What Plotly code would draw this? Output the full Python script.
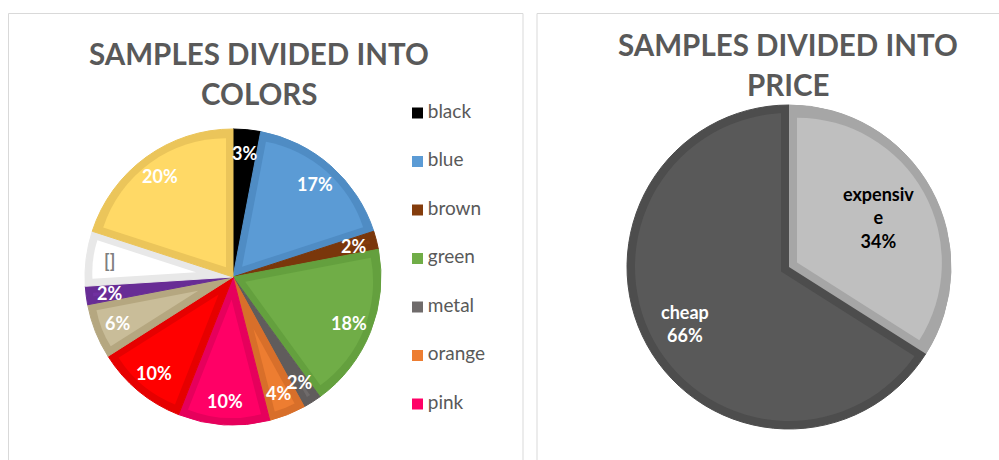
import textwrap
import numpy as np
import plotly.graph_objects as go

W, H = 999, 460
FONT = "Lato"
TEXT_GREY = "#595959"

# ---- colour breakdown (percent of samples, clockwise from 12 o'clock) ----
color_names = ["black", "blue", "brown", "green", "metal", "orange",
               "pink", "red", "beige", "purple", "white", "yellow"]
color_values = [3, 17, 2, 18, 2, 4, 10, 10, 6, 2, 6, 20]
color_fill = ["#000000", "#5b9bd5", "#843c0c", "#70ad47", "#6f6b6b", "#ed7d31",
              "#ff0066", "#ff0000", "#c9bd99", "#7030a0", "#ffffff", "#ffd966"]
color_edge = ["#000000", "#4f8cc4", "#7a370b", "#64a03e", "#605c5c", "#d86f2a",
              "#e6005c", "#e60000", "#b5a780", "#682c95", "#e8e8e8", "#ebc55a"]
color_text = ["white"] * 10 + ["#7f7f7f", "white"]
missing_label = {"white": "[]"}      # slice whose data label has no value
legend_count = 7                     # legend entries that fit the column

# ---- price breakdown (clockwise from 12 o'clock) ----
price_names = ["expensive", "cheap"]
price_values = [34, 66]
price_fill = ["#bfbfbf", "#595959"]
price_edge = ["#a6a6a6", "#4d4d4d"]
price_text = ["#000000", "white"]

titles = [["SAMPLES DIVIDED INTO", "COLORS"], ["SAMPLES DIVIDED INTO", "PRICE"]]


def domain_px(cx, cy, half):
    return dict(x=[(cx - half) / W, (cx + half) / W],
                y=[1 - (cy + half) / H, 1 - (cy - half) / H])


def angles(values):
    total = float(sum(values))
    spans = np.array(values) / total * 360.0
    starts = np.concatenate([[0.0], np.cumsum(spans)[:-1]])
    return total, starts, spans


def wedge(cx, cy, half, start, value, total, color):
    """One slice drawn as its own pie, the remainder left transparent."""
    return go.Pie(values=[value, total - value], rotation=start,
                  direction="clockwise", sort=False,
                  marker=dict(colors=[color, "rgba(0,0,0,0)"], line=dict(width=0)),
                  textinfo="none", hoverinfo="skip", showlegend=False,
                  domain=domain_px(cx, cy, half))


def offset(cx, cy, dist, ang_deg):
    a = np.radians(ang_deg)
    return cx + dist * np.sin(a), cy - dist * np.cos(a)


traces = []
annotations = []

# ---------------- colour pie ----------------
CL, RL, DL = (233, 277), 148, 7
total, starts, spans = angles(color_values)
traces.append(go.Pie(values=color_values, labels=color_names, direction="clockwise",
                     sort=False, rotation=0,
                     marker=dict(colors=color_edge, line=dict(color=color_edge, width=1)),
                     textinfo="none", hoverinfo="skip", showlegend=False,
                     domain=domain_px(*CL, RL)))
for v, a0, da, c in zip(color_values, starts, spans, color_fill):
    shift = DL / np.sin(np.radians(da / 2))
    rad = RL - DL - shift
    if rad <= 1:
        continue
    cx, cy = offset(*CL, shift, a0 + da / 2)
    traces.append(wedge(cx, cy, rad, a0, v, total, c))

for name, v, a0, da, tc in zip(color_names, color_values, starts, spans, color_text):
    label = missing_label.get(name, f"{round(v / total * 100)}%")
    x, y = offset(*CL, 0.84 * RL, a0 + da / 2)
    annotations.append(dict(x=x / W, y=1 - y / H, xref="paper", yref="paper",
                            text=f"<b>{label}</b>", showarrow=False,
                            xanchor="center", yanchor="middle",
                            font=dict(family=FONT, size=18, color=tc)))

# ---------------- price pie ----------------
CR, RR, DR = (789, 267), 162, 8
ptotal, pstarts, pspans = angles(price_values)
exp_i, chp_i = 0, 1
# dark rim for both slices, then the light body of the large slice
traces.append(go.Pie(values=price_values, labels=price_names, direction="clockwise",
                     sort=False, rotation=0,
                     marker=dict(colors=price_edge, line=dict(color=price_edge, width=1)),
                     textinfo="none", hoverinfo="skip", showlegend=False,
                     domain=domain_px(*CR, RR)))
traces.append(go.Pie(values=price_values, direction="clockwise", sort=False,
                     marker=dict(colors=[price_fill[chp_i]] * 2, line=dict(width=0)),
                     textinfo="none", hoverinfo="skip", showlegend=False,
                     domain=domain_px(*CR, RR - DR)))
# rim of the large slice along its straight edges
a0, da = pstarts[exp_i], pspans[exp_i]
shift = DR / np.sin(np.radians(da / 2))
cx, cy = offset(*CR, -shift, a0 + da / 2)
traces.append(wedge(cx, cy, RR - DR / 2 + 0.7 * shift, a0, price_values[exp_i],
                    ptotal, price_edge[chp_i]))
# small slice: rim, then its inset body
traces.append(wedge(*CR, RR, a0, price_values[exp_i], ptotal, price_edge[exp_i]))
cx, cy = offset(*CR, shift, a0 + da / 2)
traces.append(wedge(cx, cy, RR - DR - shift, a0, price_values[exp_i], ptotal,
                    price_fill[exp_i]))

label_r = [0.63, 0.73]
for name, v, a0, da, tc, rf in zip(price_names, price_values, pstarts, pspans,
                                    price_text, label_r):
    lines = textwrap.wrap(name, 8, break_long_words=True)
    label = "<br>".join(lines + [f"{round(v / ptotal * 100)}%"])
    x, y = offset(*CR, rf * RR, a0 + da / 2)
    annotations.append(dict(x=x / W, y=1 - y / H, xref="paper", yref="paper",
                            text=f"<b>{label}</b>", showarrow=False,
                            xanchor="center", yanchor="middle",
                            font=dict(family=FONT, size=18, color=tc)))

# ---------------- legend column ----------------
traces.append(go.Scatter(x=[0] * legend_count, y=list(range(legend_count)),
                         mode="markers+text",
                         marker=dict(symbol="square", size=11,
                                     color=color_fill[:legend_count]),
                         text=["\u2009" + n for n in color_names[:legend_count]],
                         textposition="middle right",
                         textfont=dict(family=FONT, size=19, color=TEXT_GREY),
                         cliponaxis=False, hoverinfo="skip", showlegend=False))
row_top, row_step = 113, 48.5
leg_top = row_top - row_step / 2
leg_bot = row_top + row_step * (legend_count - 0.5)

# ---------------- titles ----------------
title_pos = [(258.5, 53), (788, 45)]
for (tx, ty), lines in zip(title_pos, titles):
    for k, line in enumerate(lines):
        annotations.append(dict(x=tx / W, y=1 - (ty + 40 * k) / H, xref="paper",
                                yref="paper", text=f"<b>{line}</b>", showarrow=False,
                                xanchor="center", yanchor="middle",
                                font=dict(family=FONT, size=29.5, color=TEXT_GREY)))

# panel frames
shapes = [
    dict(type="rect", xref="paper", yref="paper", x0=8.5 / W, x1=523 / W,
         y0=-0.1, y1=1 - 13.5 / H, line=dict(color="#d9d9d9", width=1)),
    dict(type="rect", xref="paper", yref="paper", x0=537 / W, x1=1.05,
         y0=-0.1, y1=1 - 13.5 / H, line=dict(color="#d9d9d9", width=1)),
]

fig = go.Figure(traces)
fig.update_layout(
    width=W, height=H, margin=dict(l=0, r=0, t=0, b=0),
    paper_bgcolor="white", plot_bgcolor="rgba(0,0,0,0)",
    showlegend=False, annotations=annotations, shapes=shapes,
    font=dict(family=FONT, color=TEXT_GREY),
    xaxis=dict(domain=[407.5 / W, 427.5 / W], range=[-1, 1], visible=False,
               fixedrange=True),
    yaxis=dict(domain=[1 - leg_bot / H, 1 - leg_top / H],
               range=[legend_count - 0.5, -0.5], visible=False, fixedrange=True),
)
fig.write_html("out.html")
